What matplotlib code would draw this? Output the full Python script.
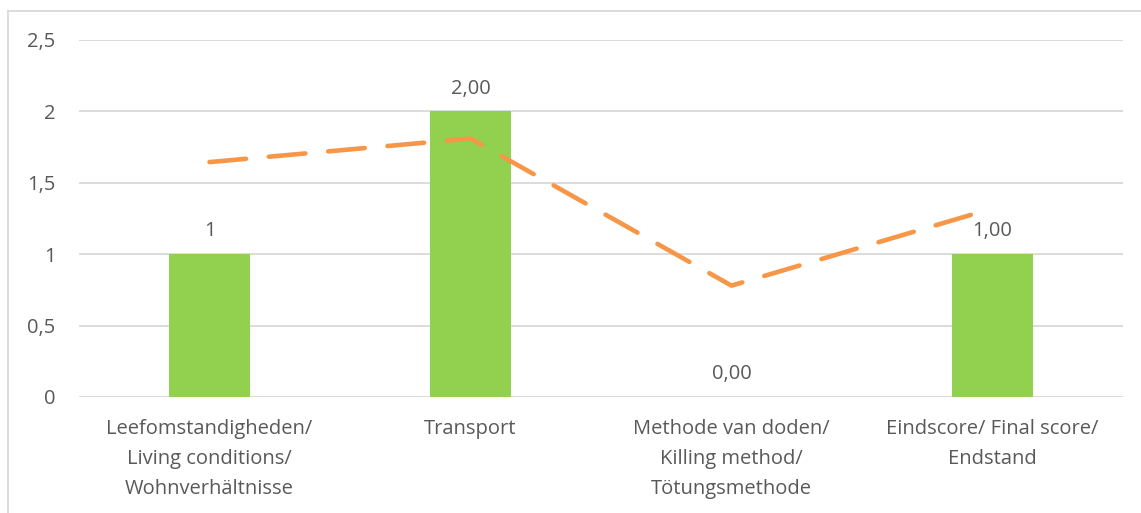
import matplotlib
matplotlib.use("Agg")
import matplotlib.pyplot as plt
from matplotlib.lines import Line2D

categories = ["Leefomstandigheden/\nLiving conditions/\nWohnverhältnisse",
              "Transport",
              "Methode van doden/\nKilling method/\nTötungsmethode",
              "Eindscore/ Final score/\nEndstand"]
bar_values = [1, 2, 0, 1]
bar_labels = ["1", "2,00", "0,00", "1,00"]
line_values = [1.645, 1.81, 0.78, 1.32]
yticks = [0, 0.5, 1, 1.5, 2, 2.5]
ytick_labels = ["0", "0,5", "1", "1,5", "2", "2,5"]

plt.rcParams['font.family'] = ['Open Sans', 'DejaVu Sans']
text_color = "#595959"
fs = 14.5

fig = plt.figure(figsize=(11.41, 5.13), dpi=100)
ax = fig.add_axes([79/1141, 116/513, (1123-79)/1141, 357/513])

x = list(range(len(categories)))
ax.bar(x, bar_values, width=0.314, color="#92D050", zorder=2)
ax.plot(x, line_values, color="#F79646", lw=3.3, dashes=(8, 5),
        dash_capstyle="round", solid_capstyle="round", zorder=3)

for xi, v, lab in zip(x, bar_values, bar_labels):
    ax.text(xi, v + 0.09, lab, ha="center", va="bottom", fontsize=fs, color=text_color)

ax.set_xlim(-0.5, len(categories) - 0.5)
ax.set_ylim(0, 2.5)
ax.set_yticks(yticks)
ax.set_yticklabels(ytick_labels)
ax.set_xticks(x)
ax.set_xticklabels(categories, linespacing=1.67)
ax.tick_params(axis="both", length=0, labelsize=fs, labelcolor=text_color)
ax.tick_params(axis="y", pad=17)
ax.tick_params(axis="x", pad=16)
for s in ax.spines.values():
    s.set_visible(False)
ax.yaxis.grid(True, color="#D9D9D9", lw=1.3, zorder=0)
ax.set_axisbelow(True)

# chart border
fig.add_artist(Line2D([8/1141, 1.0], [1 - 11/513, 1 - 11/513], transform=fig.transFigure,
                      color="#D9D9D9", lw=1.3))
fig.add_artist(Line2D([8/1141, 8/1141], [0, 1 - 11/513], transform=fig.transFigure,
                      color="#D9D9D9", lw=1.3))

fig.savefig("out.png", dpi=100)
